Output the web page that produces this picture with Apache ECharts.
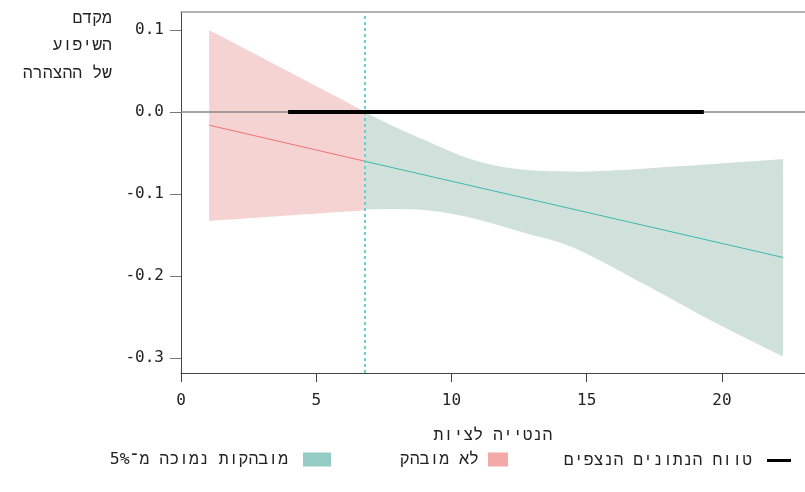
<!DOCTYPE html>
<html>
<head>
<meta charset="utf-8">
<script src="https://cdn.jsdelivr.net/npm/echarts@6/dist/echarts.min.js"></script>
<style>
html,body{margin:0;padding:0;background:#fff;}
#chart{width:805px;height:492px;}
</style>
</head>
<body>
<div id="chart"></div>
<script>
// ---- data ----
const xTicks = [0, 5, 10, 15, 20];
const yTicks = [-0.3, -0.2, -0.1, 0.0, 0.1];
const xMin = 0, xMax = 23.07, yMin = -0.318, yMax = 0.122;

const redX = [1.04, 6.78];
const redUpper = [0.100, 0.001];
const redLower = [-0.1326, -0.1195];
const redFit = [-0.0159, -0.0598];

const greenX = [6.78, 7.81, 9.07, 10.30, 11.52, 12.78, 14.0, 15.11, 17.22, 19.67, 22.26];
const greenUpper = [0.0, -0.0165, -0.035, -0.0525, -0.0645, -0.0705, -0.0722, -0.0724, -0.0687, -0.0634, -0.0573];
const greenLower = [-0.1187, -0.118, -0.1195, -0.1256, -0.1358, -0.148, -0.159, -0.1745, -0.2115, -0.2553, -0.298];
const greenFitX = [6.78, 22.26];
const greenFit = [-0.0598, -0.1772];

const observedRange = [3.96, 19.33];
const threshold = 6.78;

const nameRange = 'טווח הנתונים הנצפים';
const nameNotSig = 'לא מובהק';
const nameSig = '\u202Bמובהקות נמוכה מ\u05BE5%\u202C';
const xTitle = 'הנטייה לציות';
const yTitleLines = ['מקדם', 'השיפוע', 'של ההצהרה'];

const FONT = '"DejaVu Sans Mono", "Liberation Mono", monospace';
const TXT = '#222';

const zip = (xs, ys) => xs.map((x, i) => [x, ys[i]]);

// smooth path (Catmull-Rom -> cubic bezier) through pixel points
function curveCmds(p, first) {
  let d = first ? 'M' + p[0][0] + ' ' + p[0][1] : 'L' + p[0][0] + ' ' + p[0][1];
  for (let i = 0; i < p.length - 1; i++) {
    const p0 = p[Math.max(i - 1, 0)], p1 = p[i], p2 = p[i + 1], p3 = p[Math.min(i + 2, p.length - 1)];
    const c1 = [p1[0] + (p2[0] - p0[0]) / 6, p1[1] + (p2[1] - p0[1]) / 6];
    const c2 = [p2[0] - (p3[0] - p1[0]) / 6, p2[1] - (p3[1] - p1[1]) / 6];
    d += ' C' + c1[0] + ' ' + c1[1] + ' ' + c2[0] + ' ' + c2[1] + ' ' + p2[0] + ' ' + p2[1];
  }
  return d;
}

function bandSeries(name, xs, up, lo, color) {
  return {
    type: 'custom', name: name, data: [0], silent: true, z: 1,
    renderItem: function (params, api) {
      const top = xs.map((x, i) => api.coord([x, up[i]]));
      const bot = xs.map((x, i) => api.coord([x, lo[i]])).reverse();
      const d = curveCmds(top, true) + ' ' + curveCmds(bot, false) + ' Z';
      return {type: 'path', shape: {pathData: d}, style: {fill: color, stroke: null}};
    }
  };
}

const chart = echarts.init(document.getElementById('chart'), null, {renderer: 'canvas'});

const option = {
  animation: false,
  backgroundColor: '#fff',
  textStyle: {fontFamily: FONT},
  grid: {left: 181, right: 0, top: 12, bottom: 119, containLabel: false},
  xAxis: [{
    type: 'value', min: xMin, max: xMax, position: 'bottom',
    axisLine: {show: true, onZero: false, lineStyle: {color: '#444', width: 1}},
    axisTick: {show: true, length: 9, customValues: xTicks, lineStyle: {color: '#444'}},
    axisLabel: {customValues: xTicks, margin: 20, color: TXT, fontFamily: FONT, fontSize: 16},
    splitLine: {show: false},
    name: xTitle, nameLocation: 'middle', nameGap: 54,
    nameTextStyle: {color: TXT, fontFamily: FONT, fontSize: 16.5}
  }, {
    type: 'value', min: xMin, max: xMax, position: 'top',
    axisLine: {show: true, onZero: false, lineStyle: {color: '#999', width: 1.5}},
    axisTick: {show: false}, axisLabel: {show: false}, splitLine: {show: false}
  }],
  yAxis: {
    type: 'value', min: yMin, max: yMax,
    axisLine: {show: true, onZero: false, lineStyle: {color: '#444', width: 1}},
    axisTick: {show: true, length: 11, customValues: yTicks, lineStyle: {color: '#777'}},
    axisLabel: {customValues: yTicks, margin: 17, color: TXT, fontFamily: FONT, fontSize: 16,
      formatter: v => (Math.abs(v) < 1e-9 ? 0 : v).toFixed(1)},
    splitLine: {show: false}
  },
  legend: [{
    right: 14, top: 452, padding: 0, itemWidth: 24, itemHeight: 3, align: 'right',
    data: [{name: nameRange, icon: 'rect', itemStyle: {color: '#000'}}],
    formatter: n => n + ' ',
    textStyle: {color: TXT, fontFamily: FONT, fontSize: 16.5}, selectedMode: false
  }, {
    right: 297, top: 451, padding: 0, itemWidth: 20, itemHeight: 14, align: 'right',
    data: [{name: nameNotSig, icon: 'rect', itemStyle: {color: '#f2a9a7'}}],
    formatter: n => n,
    textStyle: {color: TXT, fontFamily: FONT, fontSize: 16.5, padding: [0, 4, 0, 0]}, selectedMode: false
  }, {
    right: 474, top: 451, padding: 0, itemWidth: 28, itemHeight: 14, align: 'right',
    data: [{name: nameSig, icon: 'rect', itemStyle: {color: '#94cbc4'}}],
    formatter: n => n + ' ',
    textStyle: {color: TXT, fontFamily: FONT, fontSize: 16.5}, selectedMode: false
  }],
  series: [
    bandSeries(nameNotSig, redX, redUpper, redLower, '#f6d3d3'),
    bandSeries(nameSig, greenX, greenUpper, greenLower, '#d0e0da'),
    {type: 'line', name: 'redFit', data: zip(redX, redFit), symbol: 'none',
      lineStyle: {color: '#f07272', width: 1}, silent: true, z: 3},
    {type: 'line', name: 'greenFit', data: zip(greenFitX, greenFit), symbol: 'none',
      lineStyle: {color: '#3db8b0', width: 1}, silent: true, z: 3,
      markLine: {symbol: 'none', silent: true, label: {show: false},
        lineStyle: {color: '#6ccfcf', width: 2, type: [3, 3]},
        data: [{xAxis: threshold}]}},
    {type: 'line', name: nameRange, data: [[observedRange[0], 0], [observedRange[1], 0]], symbol: 'none',
      lineStyle: {color: '#000', width: 4}, silent: true, z: 5,
      markLine: {symbol: 'none', silent: true, label: {show: false},
        lineStyle: {color: '#888', width: 1.5, type: 'solid'},
        data: [{yAxis: 0}]}}
  ],
  graphic: yTitleLines.map((t, i) => ({
    type: 'text', right: 693, top: 10 + i * 27.5,
    style: {text: t, align: 'right', fill: TXT, font: '16.5px "DejaVu Sans Mono", "Liberation Mono", monospace'}
  }))
};
chart.setOption(option);
</script>
</body>
</html>
